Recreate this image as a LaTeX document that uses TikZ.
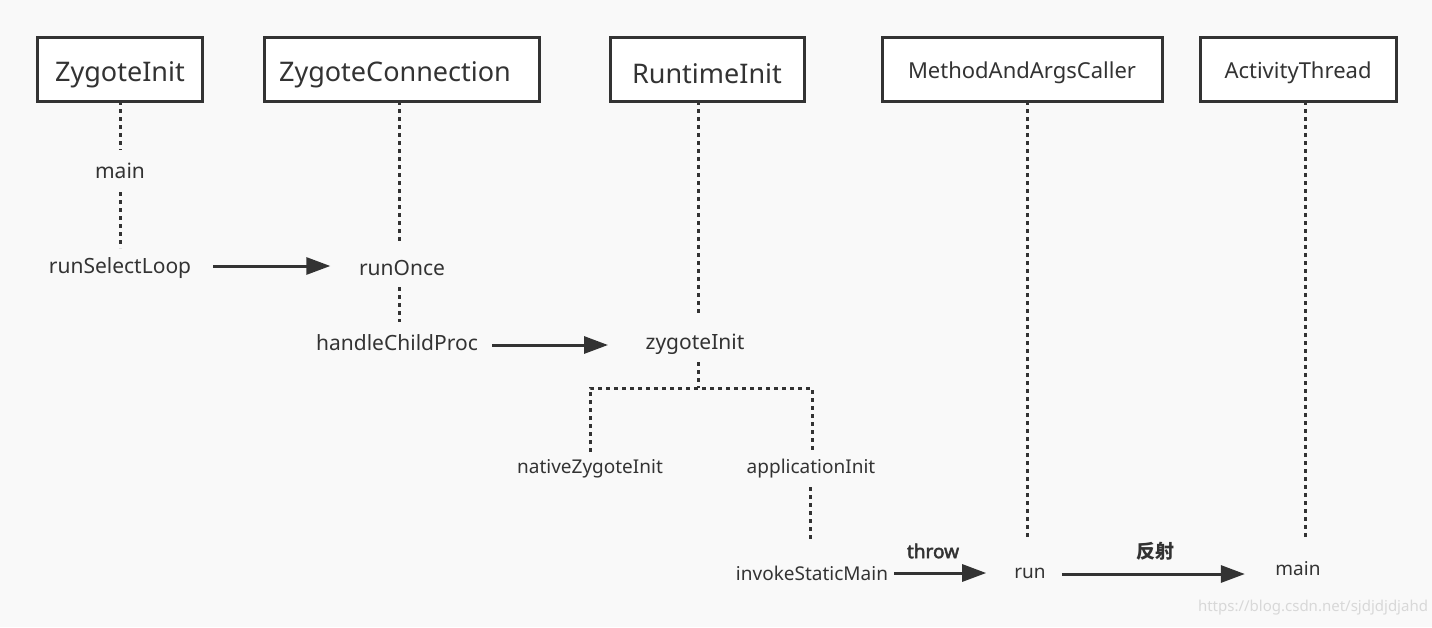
\documentclass[tikz,border=0pt]{standalone}
\usepackage{fontspec}
\setmainfont{Noto Sans}
\newfontfamily\tagfont[FakeBold=2.5]{Noto Sans}
\newfontfamily\cjk{Noto Sans CJK SC}
\usetikzlibrary{arrows.meta}
\definecolor{ink}{HTML}{333333}
\definecolor{bg}{HTML}{F9F9F9}
\definecolor{wm}{HTML}{D8D8D8}
\begin{document}
\begin{tikzpicture}[x=1pt,y=-1pt,
  every node/.style={text=ink,inner sep=0pt},
  box/.style={draw=ink,line width=3pt,fill=white,minimum height=64pt},
  bigt/.style={font=\fontsize{27}{31}\selectfont},
  midt/.style={font=\fontsize{22}{26}\selectfont},
  lbl/.style={font=\fontsize{21}{25}\selectfont},
  sml/.style={font=\fontsize{19}{23}\selectfont},
  life/.style={draw=ink,line width=3pt,dash pattern=on 4pt off 4pt},
  msg/.style={draw=ink,line width=3pt,-{Triangle[length=24pt,width=17pt]}},
  tag/.style={font=\fontsize{19}{23}\tagfont}
]
\fill[bg] (0,0) rectangle (1432,627);
\useasboundingbox (0,0) rectangle (1432,627);

% participants
\node[box,minimum width=165pt] (zi) at (120,69) {};
\node[bigt] (zit) at (120,75) {ZygoteInit};
\node[box,minimum width=275pt] (zc) at (402,69) {};
\node[bigt] (zct) at (395,75) {ZygoteConnection};
\node[box,minimum width=194pt] (ri) at (707,69) {};
\node[bigt] (rit) at (707,74) {RuntimeInit};
\node[box,minimum width=280pt] (ma) at (1022,69) {};
\node[midt] (mat) at (1022,73) {MethodAndArgsCaller};
\node[box,minimum width=196pt] (at) at (1298,69) {};
\node[midt] (att) at (1298,73) {ActivityThread};

% messages
\node[lbl] (zimain) at (120,171) {main};
\node[lbl] (rsl) at (120,268) {runSelectLoop};
\node[lbl] (ro) at (402,268) {runOnce};
\node[lbl] (hcp) at (397,343) {handleChildProc};
\node[lbl] (zyi) at (695,344) {zygoteInit};
\node[sml] (nzi) at (590,469) {nativeZygoteInit};
\node[sml] (ai) at (811,469) {applicationInit};
\node[sml] (ism) at (812,573) {invokeStaticMain};
\node[sml] (run) at (1030,573) {run};
\node[sml] (atmain) at (1298,569) {main};

% lifelines
\draw[life] (120,101) -- (120,150);
\draw[life] (120,192) -- (120,248);
\draw[life] (399,101) -- (399,243);
\draw[life] (399,287) -- (399,322);
\draw[life] (698,101) -- (698,313);
\draw[life] (698,362) -- (698,388);
\draw[life] (590,452) -- (590,388) -- (812,388) -- (812,452);
\draw[life] (810,487) -- (810,540);
\draw[life] (1027,101) -- (1027,540);
\draw[life] (1305,101) -- (1305,540);

% arrows
\draw[msg] (rsl.east) ++(22,-2) -- ++(117,0) coordinate (a1);
\draw[msg] (hcp.east) ++(14,2) -- ++(116,0) coordinate (a2);
\draw[msg] (ism.east) ++(6,0) -- ++(92,0) coordinate (a3);
\draw[msg] (run.east) ++(16,1) -- ++(183,0) coordinate (a4);
\node[tag] (throw) at (933,551) {throw};
\node[font=\fontsize{19}{23}\cjk\bfseries] (fs) at (1155,551) {反射};

\node[font=\fontsize{15}{18}\selectfont,text=wm] (wmk) at (1313,608) {https://blog.csdn.net/sjdjdjdjahd};
\end{tikzpicture}
\end{document}
